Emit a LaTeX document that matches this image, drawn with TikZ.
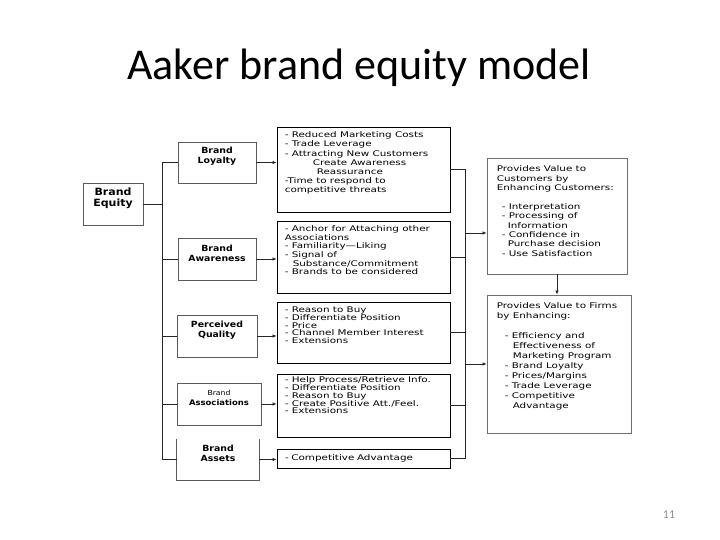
\documentclass[tikz,border=0pt]{standalone}
\usepackage{fontspec}
\setmainfont{Carlito}
\newfontfamily\benfont[FakeStretch=1.33]{DejaVu Sans}
\newfontfamily\tagfont[FakeStretch=1.1]{DejaVu Sans}
\usetikzlibrary{arrows.meta, positioning, calc}
\definecolor{tagedge}{HTML}{5A5A5A}
\definecolor{valedge}{HTML}{6E6E6E}
\definecolor{pagegray}{HTML}{8C8C8C}

\begin{document}
\begin{tikzpicture}[
  x=1pt, y=-1pt,
  tagbox/.style={rectangle, draw=tagedge, line width=0.9pt, inner sep=0pt},
  tagtext/.style={align=center, inner sep=0pt, yshift=6pt, font=\tagfont\bfseries\fontsize{8.5}{10}\selectfont},
  benbox/.style={rectangle, draw=black, line width=0.8pt, minimum width=173pt, inner sep=0pt},
  valbox/.style={rectangle, draw=valedge, line width=0.8pt, inner sep=0pt},
  bentext/.style={anchor=north west, inner sep=0pt, align=left, font=\benfont\fontsize{7.8}{8.6}\selectfont},
  link/.style={draw=black!85, line width=0.7pt},
  arrow/.style={link, -{Latex[length=4pt, width=3.5pt]}}
]
  \useasboundingbox (0,0) rectangle (720,540);

  % title and page number
  \node[anchor=base, font=\fontsize{44}{50}\selectfont] (title) at (359,80) {Aaker brand equity model};
  \node[text=pagegray, font=\fontsize{12}{14}\selectfont] (pagenum) at (669,515) {11};

  % left column
  \node[tagbox, minimum width=60pt, minimum height=42pt,
    label={[tagtext, font=\tagfont\bfseries\fontsize{10}{11}\selectfont]center:{Brand\\Equity}}] (equity) at (113,204) {};
  \node[tagbox, minimum width=78pt, minimum height=41pt, label={[tagtext]center:{Brand\\Loyalty}}] (loyal) at (217,162.5) {};
  \node[tagbox, minimum width=78pt, minimum height=42pt, label={[tagtext]center:{Brand\\Awareness}}] (aware) at (217,259) {};
  \node[tagbox, minimum width=80pt, minimum height=42pt, label={[tagtext]center:{Perceived\\Quality}}] (quality) at (217,336) {};
  \node[tagbox, minimum width=84pt, minimum height=42pt,
    label={[tagtext, font=\tagfont\bfseries\fontsize{7.7}{10}\selectfont]center:{{\mdseries\small\tagfont\fontsize{7}{10}\selectfont Brand}\\Associations}}] (assoc) at (219,404) {};
  \node[tagbox, draw=none, minimum width=82pt, minimum height=41pt, label={[tagtext]center:{Brand\\Assets}}] (assets) at (218,459.5) {};
  \draw[tagedge, line width=0.9pt] (assets.north west) -- (assets.south west) -- (assets.south east) -- (assets.north east);

  % middle column
  \node[benbox, minimum height=85pt] (ben1) at (363.5,169.5) {};
  \node[benbox, minimum height=72pt] (ben2) at (363.5,257) {};
  \node[benbox, minimum height=61pt] (ben3) at (363.5,332.5) {};
  \node[benbox, minimum height=63pt] (ben4) at (363.5,405.5) {};
  \node[benbox, minimum height=19pt, inner xsep=8pt, text width=157pt, align=left, font=\benfont\fontsize{7.8}{8.6}\selectfont] (ben5) at (363.5,458.5) {- Competitive Advantage};

  \node[bentext, font=\benfont\fontsize{7.8}{9.2}\selectfont] (ben1txt) at ($(ben1.north west)+(8,5)$) {- Reduced Marketing Costs\\
    - Trade Leverage\\
    - Attracting New Customers\\
    \hspace*{28pt}Create Awareness\\
    \hspace*{32pt}Reassurance\\
    -Time to respond to\\
    competitive threats};
  \node[bentext] (ben2txt) at ($(ben2.north west)+(8,5)$) {- Anchor for Attaching other\\
    Associations\\
    - Familiarity—Liking\\
    - Signal of\\
    \hspace*{8pt}Substance/Commitment\\
    - Brands to be considered};
  \node[bentext, font=\benfont\fontsize{7.8}{7.8}\selectfont] (ben3txt) at ($(ben3.north west)+(8,5)$) {- Reason to Buy\\
    - Differentiate Position\\
    - Price\\
    - Channel Member Interest\\
    - Extensions};
  \node[bentext, font=\benfont\fontsize{7.8}{7.8}\selectfont] (ben4txt) at ($(ben4.north west)+(8,3)$) {- Help Process/Retrieve Info.\\
    - Differentiate Position\\
    - Reason to Buy\\
    - Create Positive Att./Feel.\\
    - Extensions};

  % right column
  \node[valbox, minimum width=140pt, minimum height=116pt] (cust) at (557,216) {};
  \node[valbox, minimum width=144pt, minimum height=138pt] (firm) at (559,364) {};

  \node[bentext, font=\benfont\fontsize{7.8}{9.3}\selectfont] (custtxt) at ($(cust.north west)+(10,8)$) {Provides Value to\\
    Customers by\\
    Enhancing Customers:\\[10pt]
    \hspace*{5pt}- Interpretation\\
    \hspace*{5pt}- Processing of\\
    \hspace*{11pt}Information\\
    \hspace*{5pt}- Confidence in\\
    \hspace*{11pt}Purchase decision\\
    \hspace*{5pt}- Use Satisfaction};
  \node[bentext, font=\benfont\fontsize{7.8}{10}\selectfont] (firmtxt) at ($(firm.north west)+(10,8)$) {Provides Value to Firms\\
    by Enhancing:\\[10pt]
    \hspace*{8pt}- Efficiency and\\
    \hspace*{16pt}Effectiveness of\\
    \hspace*{16pt}Marketing Program\\
    \hspace*{8pt}- Brand Loyalty\\
    \hspace*{8pt}- Prices/Margins\\
    \hspace*{8pt}- Trade Leverage\\
    \hspace*{8pt}- Competitive\\
    \hspace*{16pt}Advantage};

  % connectors
  \coordinate (spine) at (162,0);
  \coordinate (bus) at (465,0);
  \coordinate (tocust) at (465,233);

  \draw[link] (equity.east) -- (equity.east -| spine);
  \draw[link] (loyal.west -| spine) -- (assets.west -| spine);
  \draw[link] (ben1.east -| bus) -- (ben5.east -| bus);
  \foreach \tag/\ben in {loyal/ben1, aware/ben2, quality/ben3, assoc/ben4, assets/ben5} {
    \draw[link] (\tag.west -| spine) -- (\tag.west);
    \draw[arrow] (\tag.east) -- (\tag.east -| \ben.west);
    \draw[link] (\ben.east) -- (\ben.east -| bus);
  }
  \draw[arrow] (tocust) -- (tocust -| cust.west);
  \draw[arrow] (firm.west -| bus) -- (firm.west);
  \draw[arrow] (cust.south) -- (cust.south |- firm.north);
\end{tikzpicture}
\end{document}
